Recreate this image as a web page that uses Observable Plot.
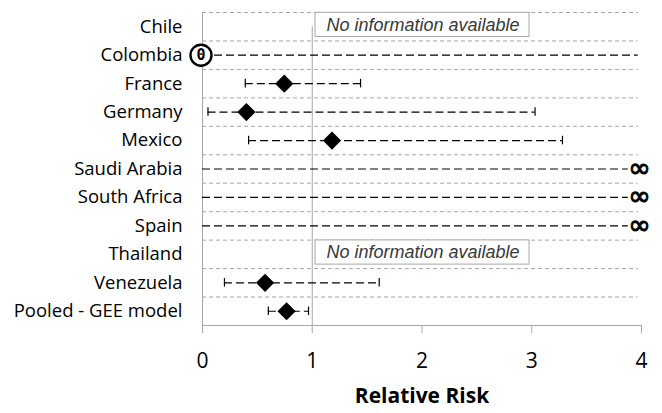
<!DOCTYPE html>
<html><head><meta charset="utf-8">
<script src="https://cdn.jsdelivr.net/npm/d3@7"></script>
<script src="https://cdn.jsdelivr.net/npm/@observablehq/plot@0.6"></script>
<style>
body{margin:0;background:#fff;}
</style></head><body><div id="chart"></div>
<script>
// ---- data ----
const categories = ["Chile","Colombia","France","Germany","Mexico","Saudi Arabia","South Africa","Spain","Thailand","Venezuela","Pooled - GEE model"];
const estimate   = [null, 0,    0.745, 0.40, 1.18, null, null, null, null, 0.57, 0.766];
const lower      = [null, 0,    0.39,  0.05, 0.42, 0,    0,    0,    null, 0.20, 0.60];
const upper      = [null, 4,    1.44,  3.03, 3.28, Infinity, Infinity, Infinity, null, 1.61, 0.966];
const noInfo     = ["Chile","Thailand"];
const noInfoText = "No information available";
const xTicks     = [0,1,2,3,4];
const axisTitle  = "Relative Risk";

// ---- derived table ----
const rows = categories.map((c,i)=>({c, i, est: estimate[i], lo: lower[i], hi: upper[i]}));
const ciRows = rows.filter(d => d.lo !== null);
const xMax = 4;
const gridEnd = 3.97;
const infEnd = 3.88;
const grid = d3.range(-0.5, categories.length - 0.5, 1);
const FONT = "Open Sans";

const chart = Plot.plot({
  width: 662, height: 413,
  marginLeft: 202, marginRight: 21, marginTop: 12, marginBottom: 88,
  style: {fontFamily: FONT, fontSize: "18px", background: "white", color: "black"},
  x: {domain: [0, xMax]},
  y: {domain: [-0.5, categories.length - 0.5], reverse: true},
  marks: [
    Plot.ruleY(grid, {x1: 0, x2: gridEnd, stroke: "#a6a6a6", strokeDasharray: "4,3", strokeWidth: 1}),
    Plot.ruleY([categories.length - 0.5], {x1: 0, x2: xMax, stroke: "#a6a6a6", strokeWidth: 1}),
    Plot.ruleX([0], {y1: -0.5, y2: categories.length - 0.5, stroke: "#a6a6a6", strokeWidth: 1}),
    Plot.ruleX([1], {y1: 0, y2: categories.length - 0.5, stroke: "#a6a6a6", strokeWidth: 1}),
    Plot.axisX(xTicks, {tickSize: 8, tickPadding: 20, stroke: "#a6a6a6", fill: "black", fontSize: 21, fontFamily: FONT, label: null}),
    Plot.axisY(d3.range(categories.length), {tickFormat: i => categories[i], tickSize: 0, tickPadding: 20, fontSize: 18.5, fontFamily: FONT, fill: "black", label: null}),
    Plot.text([axisTitle], {frameAnchor: "bottom", dy: 77, fontSize: 21, fontWeight: "bold", fontFamily: FONT, fill: "black"}),
    // no-information boxes
    Plot.rect(rows.filter(d => noInfo.includes(d.c)), {x1: 1.03, x2: 2.98, y1: d => d.i - 0.49, y2: d => d.i + 0.36, fill: "white", stroke: "#a6a6a6", strokeWidth: 1}),
    Plot.text(rows.filter(d => noInfo.includes(d.c)), {x: 1.13, y: d => d.i - 0.07, text: () => noInfoText, textAnchor: "start", fontStyle: "italic", fontFamily: "Liberation Sans", fontSize: 18, fill: "#383838"}),
    // confidence intervals
    Plot.ruleY(ciRows, {y: "i", x1: "lo", x2: d => isFinite(d.hi) ? Math.min(d.hi, gridEnd) : infEnd, stroke: "black", strokeDasharray: "8,4", strokeWidth: 1.2}),
    Plot.ruleX(ciRows.filter(d => d.lo > 0), {x: "lo", y1: d => d.i - 0.15, y2: d => d.i + 0.15, stroke: "black", strokeWidth: 1.2}),
    Plot.ruleX(ciRows.filter(d => isFinite(d.hi) && d.hi < xMax), {x: "hi", y1: d => d.i - 0.15, y2: d => d.i + 0.15, stroke: "black", strokeWidth: 1.2}),
    // estimates
    Plot.dot(rows.filter(d => d.est > 0), {x: "est", y: "i", symbol: "diamond2", r: 8.2, fill: "black", stroke: "none"}),
    Plot.dot(rows.filter(d => d.est === 0), {x: "est", y: "i", r: 10.5, fill: "white", stroke: "black", strokeWidth: 2.4, dx: -1.5}),
    Plot.text(rows.filter(d => d.est === 0), {x: "est", y: "i", text: d => String(d.est), dx: -1.5, fontFamily: "DejaVu Sans Mono", fontWeight: "bold", fontSize: 15, fill: "black"}),
    Plot.text(rows.filter(d => d.hi === Infinity), {x: xMax, y: "i", dx: -2, dy: -1, text: () => "\u221E", fontFamily: "DejaVu Sans", fontSize: 27, fill: "black", stroke: "black", strokeWidth: 1})
  ]
});
document.getElementById("chart").appendChild(chart);
</script></body></html>
